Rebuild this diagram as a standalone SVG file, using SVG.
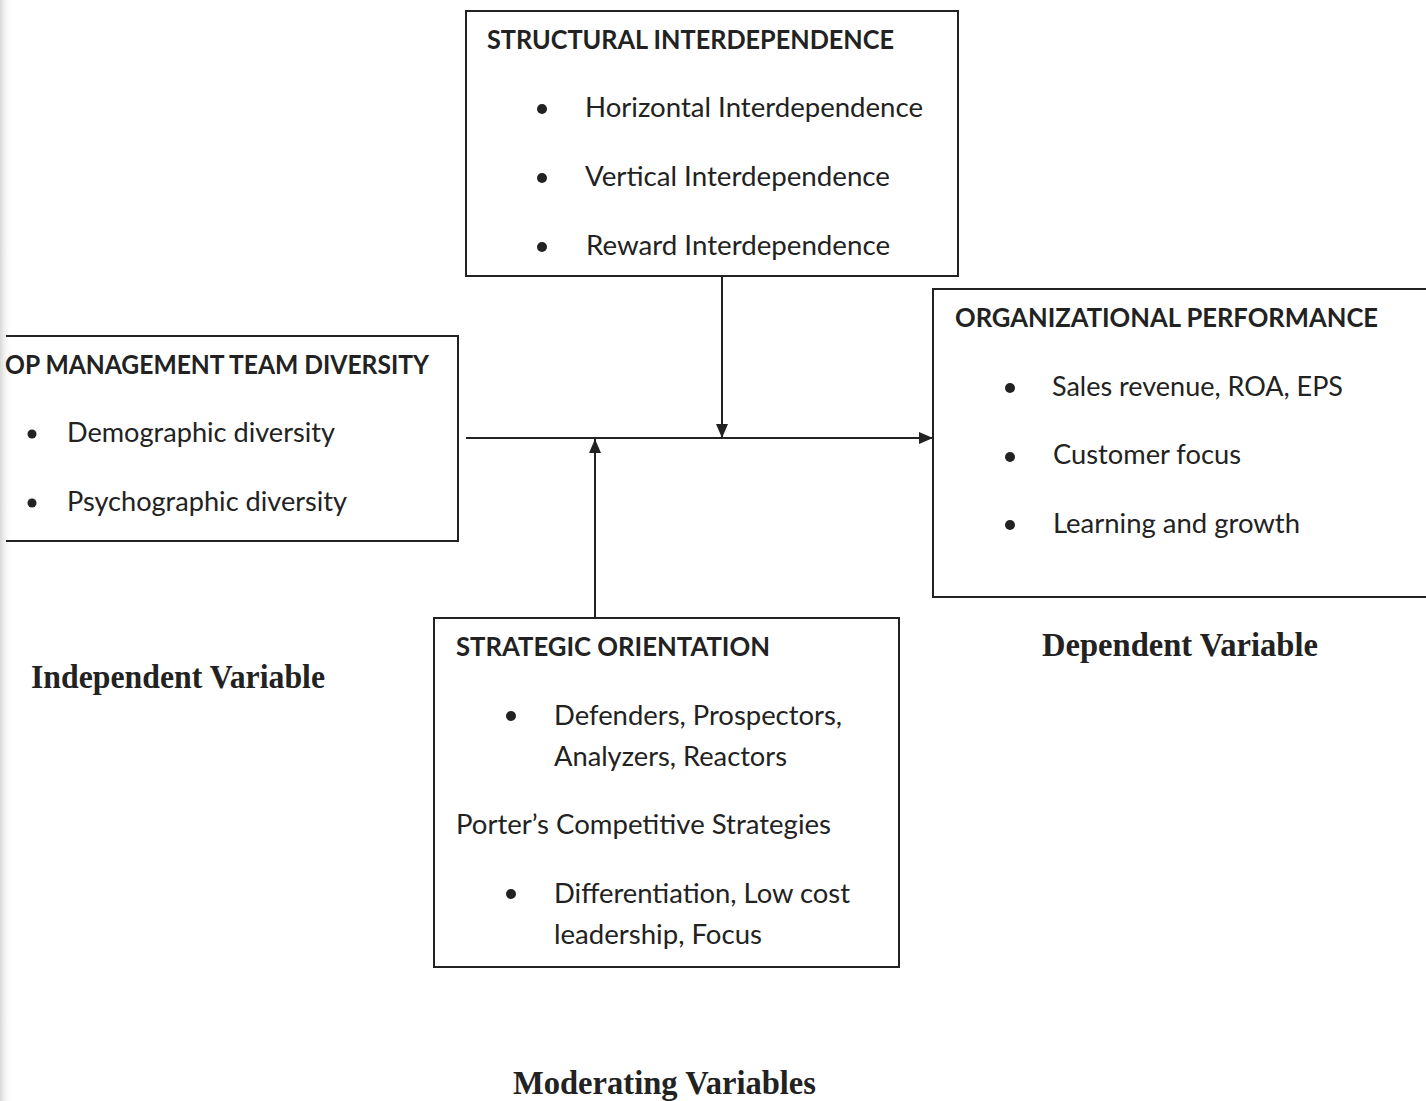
<svg xmlns="http://www.w3.org/2000/svg" width="1426" height="1101" viewBox="0 0 1426 1101">
<defs>
<style>
.box{fill:none;stroke:#222;stroke-width:2}
.t{font-family:Lato,"Open Sans","Liberation Sans",sans-serif;font-size:26px;fill:#222}
.h{font-family:Lato,"Open Sans","Liberation Sans",sans-serif;font-size:26px;font-weight:bold;fill:#222}
.lab{font-family:"Liberation Serif","Times New Roman",serif;font-size:33px;font-weight:bold;fill:#222}
.b{fill:#222}
.ln{stroke:#222;stroke-width:2;fill:none}
</style>
<linearGradient id="edge" x1="0" x2="1" y1="0" y2="0">
<stop offset="0" stop-color="#d8d8d8"/>
<stop offset="1" stop-color="#ffffff" stop-opacity="0"/>
</linearGradient>
<marker id="ah" viewBox="0 0 14 12" refX="14" refY="6" markerWidth="14" markerHeight="12" markerUnits="userSpaceOnUse" orient="auto">
<path d="M0,0 L14,6 L0,12 Z" fill="#222"/>
</marker>
</defs>
<rect x="0" y="0" width="1426" height="1101" fill="#fff"/>
<rect x="0" y="0" width="12" height="1101" fill="url(#edge)"/>

<g id="structural">
<rect class="box" x="466" y="11" width="492" height="265"/>
<text class="h" x="487" y="49" textLength="407" lengthAdjust="spacingAndGlyphs">STRUCTURAL INTERDEPENDENCE</text>
<circle class="b" cx="542" cy="109" r="5"/>
<text class="t" x="585" y="117" textLength="338" lengthAdjust="spacingAndGlyphs">Horizontal Interdependence</text>
<circle class="b" cx="542" cy="178" r="5"/>
<text class="t" x="585" y="186" textLength="305" lengthAdjust="spacingAndGlyphs">Vertical Interdependence</text>
<circle class="b" cx="542" cy="247" r="5"/>
<text class="t" x="586" y="255" textLength="304" lengthAdjust="spacingAndGlyphs">Reward Interdependence</text>
</g>

<g id="tmt">
<polyline class="box" points="6,336 458,336 458,541 6,541"/>
<text class="h" x="5" y="374" textLength="424" lengthAdjust="spacingAndGlyphs">OP MANAGEMENT TEAM DIVERSITY</text>
<circle class="b" cx="32" cy="434" r="4.5"/>
<text class="t" x="67" y="442" textLength="268" lengthAdjust="spacingAndGlyphs">Demographic diversity</text>
<circle class="b" cx="32" cy="503" r="4.5"/>
<text class="t" x="67" y="511" textLength="280" lengthAdjust="spacingAndGlyphs">Psychographic diversity</text>
</g>

<g id="performance">
<polyline class="box" points="1427,289 933,289 933,597 1427,597"/>
<text class="h" x="955" y="327" textLength="423" lengthAdjust="spacingAndGlyphs">ORGANIZATIONAL PERFORMANCE</text>
<circle class="b" cx="1010" cy="388" r="5"/>
<text class="t" x="1052" y="396" textLength="291" lengthAdjust="spacingAndGlyphs">Sales revenue, ROA, EPS</text>
<circle class="b" cx="1010" cy="457" r="5"/>
<text class="t" x="1053" y="464" textLength="188" lengthAdjust="spacingAndGlyphs">Customer focus</text>
<circle class="b" cx="1010" cy="525" r="5"/>
<text class="t" x="1053" y="533" textLength="247" lengthAdjust="spacingAndGlyphs">Learning and growth</text>
</g>

<g id="strategic">
<rect class="box" x="434" y="618" width="465" height="349"/>
<text class="h" x="456" y="656" textLength="314" lengthAdjust="spacingAndGlyphs">STRATEGIC ORIENTATION</text>
<circle class="b" cx="511" cy="716" r="5"/>
<text class="t" x="554" y="725" textLength="288" lengthAdjust="spacingAndGlyphs">Defenders, Prospectors,</text>
<text class="t" x="554" y="766" textLength="233" lengthAdjust="spacingAndGlyphs">Analyzers, Reactors</text>
<text class="t" x="456" y="834" textLength="375" lengthAdjust="spacingAndGlyphs">Porter’s Competitive Strategies</text>
<circle class="b" cx="511" cy="894" r="5"/>
<text class="t" x="554" y="903" textLength="296" lengthAdjust="spacingAndGlyphs">Differentiation, Low cost</text>
<text class="t" x="554" y="944" textLength="208" lengthAdjust="spacingAndGlyphs">leadership, Focus</text>
</g>

<g id="connectors">
<line class="ln" x1="466" y1="438" x2="933" y2="438" marker-end="url(#ah)"/>
<line class="ln" x1="722" y1="276" x2="722" y2="438" marker-end="url(#ah)"/>
<line class="ln" x1="595" y1="618" x2="595" y2="439" marker-end="url(#ah)"/>
</g>

<g id="labels">
<text class="lab" x="31" y="688" textLength="294" lengthAdjust="spacingAndGlyphs">Independent Variable</text>
<text class="lab" x="1042" y="656" textLength="276" lengthAdjust="spacingAndGlyphs">Dependent Variable</text>
<text class="lab" x="513" y="1094" textLength="303" lengthAdjust="spacingAndGlyphs">Moderating Variables</text>
</g>
</svg>
